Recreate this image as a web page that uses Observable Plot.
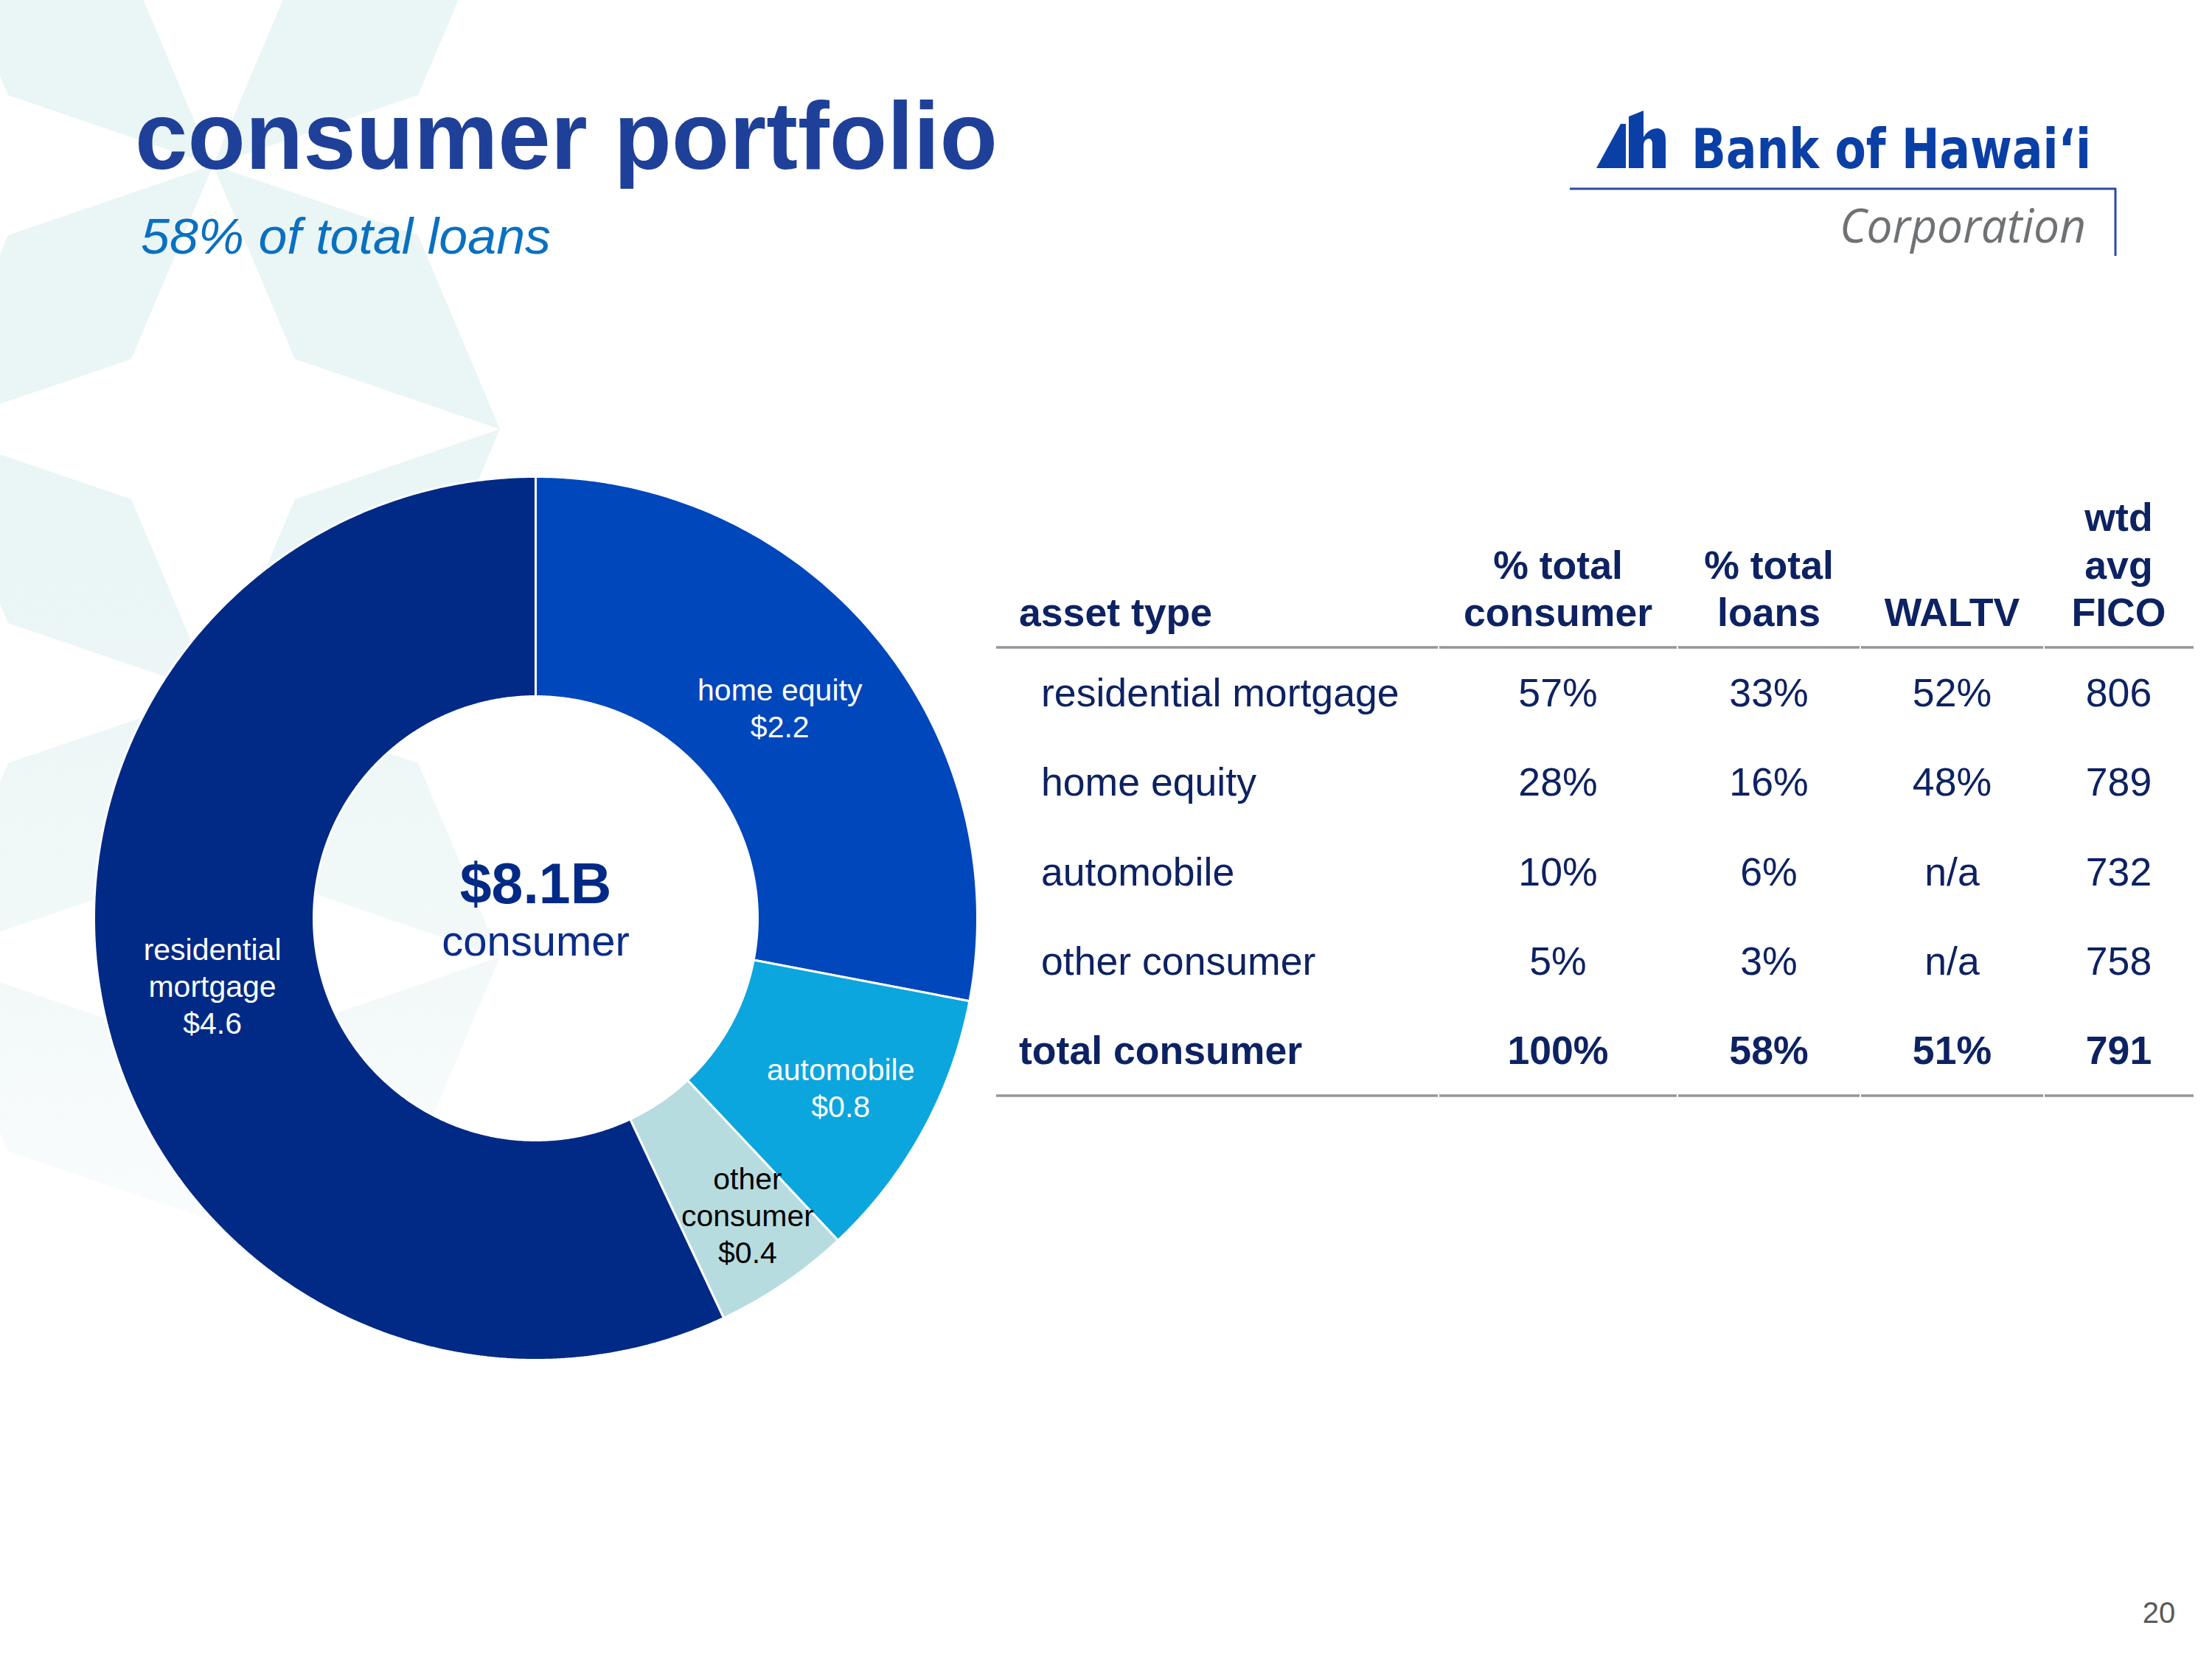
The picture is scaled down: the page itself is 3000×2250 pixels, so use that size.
<!DOCTYPE html>
<html>
<head>
<meta charset="utf-8">
<script src="https://cdn.jsdelivr.net/npm/d3@7"></script>
<script src="https://cdn.jsdelivr.net/npm/@observablehq/plot@0.6"></script>
<style>
html, body { margin: 0; padding: 0; background: #ffffff; }
#page { position: relative; width: 3000px; height: 2250px; overflow: hidden; background: #ffffff;
        font-family: "Liberation Sans", Arial, Helvetica, sans-serif; }
#bg { position: absolute; left: 0; top: 0; }
</style>
</head>
<body>
<div id="page"></div>
<script>
// ---------------- DATA ----------------
const assetTypes   = ["residential mortgage", "home equity", "automobile", "other consumer"];
const donutLabels  = ["residential\nmortgage", "home equity", "automobile", "other\nconsumer"];
const balances     = [4.6, 2.2, 0.8, 0.4];          // $B
const pctConsumer  = [57, 28, 10, 5];               // % of total consumer
const pctLoans     = [33, 16, 6, 3];                // % of total loans
const waltv        = [52, 48, null, null];          // %
const fico         = [806, 789, 732, 758];
const totalLabel   = "total consumer";
const totalValues  = {pctConsumer: 100, pctLoans: 58, waltv: 51, fico: 791};
const totalBalance = 8.1;                           // $B
const columnHeaders = ["asset type", "% total\nconsumer", "% total\nloans", "WALTV", "wtd\navg\nFICO"];
const titleText    = "consumer portfolio";
const subtitleText = "58% of total loans";
const pageNumber   = "20";

// ---------------- STYLE ----------------
const sliceColors = {
  "residential mortgage": "#002a86",
  "home equity": "#0047bb",
  "automobile": "#0ba6de",
  "other consumer": "#b6dce0"
};
const labelColors = {
  "residential mortgage": "#ffffff",
  "home equity": "#ffffff",
  "automobile": "#ffffff",
  "other consumer": "#000000"
};
const labelRadius = {   // fraction of outer radius
  "residential mortgage": 0.75,
  "home equity": 0.735,
  "automobile": 0.79,
  "other consumer": 0.83
};
const labelNudge = {    // pixel nudges [dx, dy]
  "residential mortgage": [0, -8],
  "home equity": [-8, -6],
  "automobile": [-1, 1],
  "other consumer": [8, -10]
};
const clockwiseOrder = ["home equity", "automobile", "other consumer", "residential mortgage"];
const FONT = "Liberation Sans, Arial, Helvetica, sans-serif";
const NAVY = "#0d2262";

const W = 3000, H = 2250;
const page = d3.select("#page");
const svg = page.append("svg").attr("id", "bg")
  .attr("width", W).attr("height", H).attr("viewBox", `0 0 ${W} ${H}`);

// ---------------- BACKGROUND STAR PATTERN ----------------
const defs = svg.append("defs");
const grad = defs.append("linearGradient").attr("id", "tealFade")
  .attr("gradientUnits", "userSpaceOnUse")
  .attr("x1", 0).attr("y1", 0).attr("x2", 0).attr("y2", H);
grad.append("stop").attr("offset", 0.33).attr("stop-color", "#eaf5f5");
grad.append("stop").attr("offset", 0.6).attr("stop-color", "#f3f9f9");
grad.append("stop").attr("offset", 0.85).attr("stop-color", "#ffffff");

const lat = {x0: 289, y0: 582, dx: 389, dy: 358, ix: 111, iy: 95};
const kitePairs = [
  [0, -2, -1, -1], [0, -2, 1, -1], [-1, -1, 0, 0], [0, 0, 1, -1],
  [0, 0, 1, 1], [0, 0, -1, 1], [-1, 1, 0, 2], [1, 1, 0, 2],
  [0, 2, -1, 3], [0, 2, 1, 3]
];
function kite([a1, b1, a2, b2]) {
  const sx = Math.sign(a2 - a1), sy = Math.sign(b2 - b1);
  const cx = lat.x0 + a1 * lat.dx, cy = lat.y0 + b1 * lat.dy;
  return [
    [cx + sx * lat.ix, cy + sy * lat.iy],
    [cx + sx * lat.dx, cy],
    [cx + sx * (lat.dx - lat.ix), cy + sy * (lat.dy - lat.iy)],
    [cx, cy + sy * lat.dy]
  ];
}
svg.append("g").selectAll("polygon").data(kitePairs.map(kite)).join("polygon")
  .attr("points", d => d.map(p => p.join(",")).join(" "))
  .attr("fill", "url(#tealFade)");

// ---------------- TITLE ----------------
function text(g, x, y, s, o = {}) {
  const t = g.append("text").attr("x", x).attr("y", y).text(s)
    .attr("font-family", o.family || FONT)
    .attr("font-size", o.size || 40)
    .attr("font-weight", o.weight || "normal")
    .attr("font-style", o.style || "normal")
    .attr("fill", o.fill || "#000")
    .attr("text-anchor", o.anchor || "start");
  if (o.length) t.attr("textLength", o.length).attr("lengthAdjust", "spacingAndGlyphs");
  return t;
}
const titleG = svg.append("g");
text(titleG, 183, 229, titleText, {size: 129, weight: "bold", fill: "#1f4099", length: 1170});
text(titleG, 191, 344, subtitleText, {size: 69, style: "italic", fill: "#0a70c0", length: 556});

// ---------------- LOGO ----------------
const logo = svg.append("g");
logo.append("path").attr("d", "M2165,228 L2198,168 L2205,168 L2205,228 Z").attr("fill", "#0a3fa6");
logo.append("path")
  .attr("d", "M2209,158 L2229,150 L2229,186 Q2236,174 2248,174 Q2259,175 2259,190 L2259,228 L2241,228 L2241,196 Q2241,188 2236,188 Q2229,189 2229,198 L2229,228 L2209,228 Z")
  .attr("fill", "#0a3fa6");
text(logo, 2294, 228, "Bank of Hawai\u2018i", {size: 74, weight: "bold", family: "DejaVu Sans Condensed, DejaVu Sans, sans-serif", fill: "#0a3fa6", length: 542});
logo.append("line").attr("x1", 2129).attr("x2", 2870).attr("y1", 256).attr("y2", 256)
  .attr("stroke", "#2a4aa8").attr("stroke-width", 3);
logo.append("line").attr("x1", 2869).attr("x2", 2869).attr("y1", 255).attr("y2", 347)
  .attr("stroke", "#2a4aa8").attr("stroke-width", 3);
text(logo, 2495, 329, "Corporation", {size: 64, style: "italic", family: "Open Sans, Noto Sans, sans-serif", fill: "#6f7275", length: 334});

// ---------------- TABLE ----------------
const tbl = svg.append("g");
const colEdges = [1351, 1951, 2275, 2523, 2772, 2975];
const colCenter = i => (colEdges[i] + colEdges[i + 1]) / 2;
const TSIZE = 53.6;
const headerBase = 849, headerLine = 64.5;
const ruleTop = 878, ruleBottom = 1486;
const rowBase0 = 958, rowStep = 121.25;

columnHeaders.forEach((h, i) => {
  const lines = h.split("\n");
  lines.forEach((ln, k) => {
    const y = headerBase - (lines.length - 1 - k) * headerLine;
    if (i === 0) text(tbl, 1382, y, ln, {size: TSIZE, weight: "bold", fill: NAVY});
    else text(tbl, colCenter(i), y, ln, {size: TSIZE, weight: "bold", fill: NAVY, anchor: "middle"});
  });
});
const pct = v => v == null ? "n/a" : `${v}%`;
const rows = assetTypes.map((a, i) => [a, pct(pctConsumer[i]), pct(pctLoans[i]), pct(waltv[i]), String(fico[i])]);
rows.forEach((r, j) => {
  const y = rowBase0 + j * rowStep;
  r.forEach((cell, i) => {
    if (i === 0) text(tbl, 1412, y, cell, {size: TSIZE, fill: NAVY});
    else text(tbl, colCenter(i), y, cell, {size: TSIZE, fill: NAVY, anchor: "middle"});
  });
});
const totalCells = [totalLabel, pct(totalValues.pctConsumer), pct(totalValues.pctLoans), pct(totalValues.waltv), String(totalValues.fico)];
totalCells.forEach((cell, i) => {
  const y = rowBase0 + rows.length * rowStep;
  if (i === 0) text(tbl, 1382, y, cell, {size: TSIZE, weight: "bold", fill: NAVY});
  else text(tbl, colCenter(i), y, cell, {size: TSIZE, weight: "bold", fill: NAVY, anchor: "middle"});
});
[ruleTop, ruleBottom].forEach(y => {
  for (let i = 0; i < colEdges.length - 1; i++) {
    tbl.append("line")
      .attr("x1", colEdges[i] + (i > 0 ? 1 : 0)).attr("x2", colEdges[i + 1] - (i < colEdges.length - 2 ? 1 : 0))
      .attr("y1", y).attr("y2", y)
      .attr("stroke", "#969696").attr("stroke-width", 3.5);
  }
});

// page number
text(svg, 2928, 2201, pageNumber, {size: 40, fill: "#595959", anchor: "middle"});

// ---------------- DONUT (Observable Plot) ----------------
const R = 599, RIN = 301, SIZE = 1200;
const D = SIZE / 2 / R;
const inner = RIN / R;
const total = d3.sum(pctConsumer);
let acc = 0;
const slices = clockwiseOrder.map(name => {
  const i = assetTypes.indexOf(name);
  const a0 = acc / total * 2 * Math.PI;
  acc += pctConsumer[i];
  const a1 = acc / total * 2 * Math.PI;
  return {name, i, a0, a1};
});
function ring(a0, a1, r0, r1) {
  const n = Math.max(8, Math.ceil((a1 - a0) / (Math.PI / 360)));
  const pts = [];
  for (let k = 0; k <= n; k++) { const a = a0 + (a1 - a0) * k / n; pts.push({x: r1 * Math.sin(a), y: r1 * Math.cos(a)}); }
  for (let k = n; k >= 0; k--) { const a = a0 + (a1 - a0) * k / n; pts.push({x: r0 * Math.sin(a), y: r0 * Math.cos(a)}); }
  pts.push(pts[0]);
  return pts;
}
const labels = slices.map(s => {
  const m = (s.a0 + s.a1) / 2, r = labelRadius[s.name], [nx, ny] = labelNudge[s.name];
  return {
    x: r * Math.sin(m) + nx / R, y: r * Math.cos(m) - ny / R,
    text: `${donutLabels[s.i]}\n$${balances[s.i].toFixed(1)}`,
    color: labelColors[s.name]
  };
});
const centerTexts = [
  {x: 0, y: 0.035, text: `$${totalBalance}B`},
  {x: 0, y: -0.085, text: "consumer"}
];

const chart = Plot.plot({
  width: SIZE, height: SIZE, margin: 0,
  x: {domain: [-D, D], axis: null},
  y: {domain: [-D, D], axis: null},
  style: {background: "transparent", fontFamily: FONT, overflow: "visible"},
  marks: [
    ...slices.map(s => Plot.line(ring(s.a0, s.a1, inner, 1), {
      x: "x", y: "y", fill: sliceColors[s.name], stroke: "#ffffff", strokeWidth: 3, strokeLinejoin: "miter"
    })),
    Plot.text(labels.filter(d => d.color === "#ffffff"), {
      x: "x", y: "y", text: "text", fill: "#ffffff", fontSize: 41, lineHeight: 1.22, fontFamily: FONT
    }),
    Plot.text(labels.filter(d => d.color !== "#ffffff"), {
      x: "x", y: "y", text: "text", fill: "#000000", fontSize: 41, lineHeight: 1.22, fontFamily: FONT
    }),
    Plot.text(centerTexts.slice(0, 1), {
      x: "x", y: "y", text: "text", lineAnchor: "bottom", fontSize: 77, fontWeight: "bold", fill: "#002a86", fontFamily: FONT
    }),
    Plot.text(centerTexts.slice(1), {
      x: "x", y: "y", text: "text", lineAnchor: "bottom", fontSize: 58, fill: "#0b2c8a", fontFamily: FONT
    })
  ]
});
chart.style.position = "absolute";
chart.style.left = `${726 - SIZE / 2}px`;
chart.style.top = `${1245 - SIZE / 2}px`;
document.getElementById("page").appendChild(chart);
</script>
</body>
</html>
